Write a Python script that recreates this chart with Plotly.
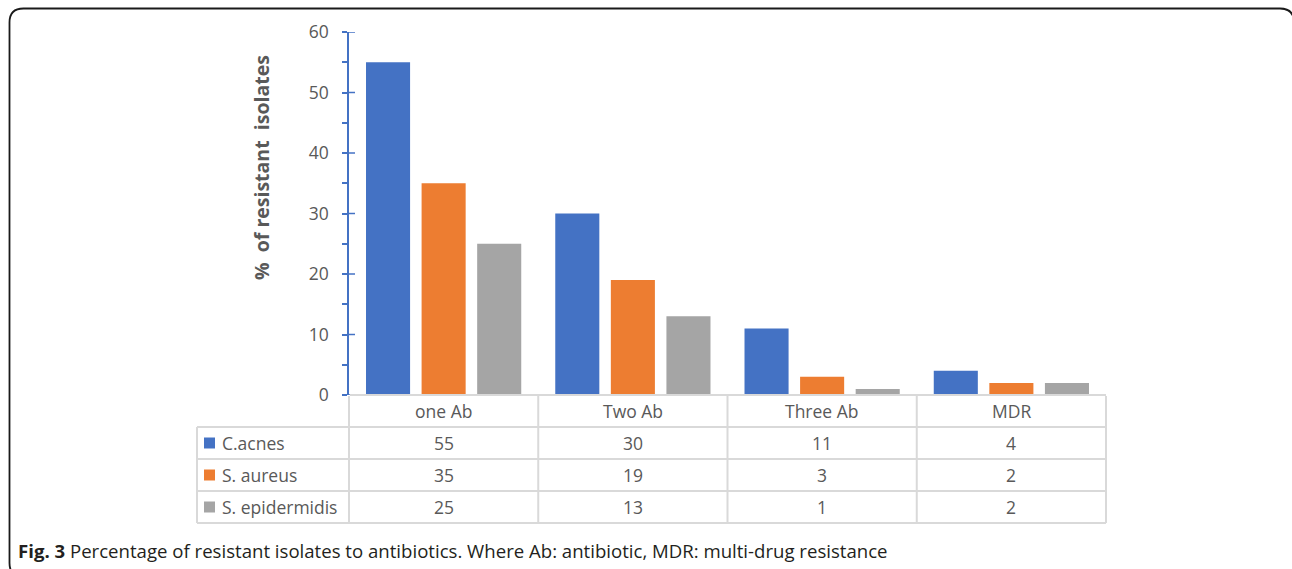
import plotly.graph_objects as go

# ---- data ----
categories = ["one Ab", "Two Ab", "Three Ab", "MDR"]
series_names = ["C.acnes", "S. aureus", "S. epidermidis"]
c_acnes = [55, 30, 11, 4]
s_aureus = [35, 19, 3, 2]
s_epidermidis = [25, 13, 1, 2]
series_values = [c_acnes, s_aureus, s_epidermidis]
series_colors = ["#4472C4", "#ED7D31", "#A5A5A5"]
y_ticks = [0, 10, 20, 30, 40, 50, 60]

W, H = 1292, 569
FONT = "Open Sans"
TXT = "#595959"
GRID = "#D9D9D9"
AXIS = "#4472C4"
CELL_SIZE = 17.5

# plot-area geometry (pixels)
PX0, PX1 = 349, 1106
PY_TOP, PY_BOT = 32, 395
ROW_H = 32
LEFT_COL = 197


def fx(px):
    return px / W


def fy(py):
    return 1 - py / H


fig = go.Figure()
for name, vals, col in zip(series_names, series_values, series_colors):
    fig.add_trace(go.Bar(x=categories, y=vals, name=name, marker_color=col,
                         marker_line_width=0, showlegend=False))

fig.update_layout(
    template="none",
    width=W, height=H,
    margin=dict(l=0, r=0, t=0, b=0, pad=0),
    paper_bgcolor="white", plot_bgcolor="white",
    barmode="group", bargap=0.119, bargroupgap=0.207,
    font=dict(family=FONT, color=TXT, size=16),
    xaxis=dict(domain=[fx(PX0), fx(PX1)], range=[-0.5, len(categories) - 0.5],
               showticklabels=False, showline=False, showgrid=False,
               zeroline=False, ticks="", automargin=False),
    yaxis=dict(domain=[fy(PY_BOT), fy(PY_TOP)], range=[0, 60], automargin=False,
               tickvals=y_ticks, ticks="outside", ticklen=5, tickwidth=1.5,
               tickcolor=AXIS, showline=True, linecolor=AXIS, linewidth=1.5,
               showgrid=False, zeroline=False, ticklabelstandoff=10,
               tickfont=dict(size=17.5, color=TXT),
               minor=dict(dtick=5, ticks="outside", ticklen=5, tickwidth=1.5,
                          tickcolor=AXIS, showgrid=False)),
)

shapes = []
# inner halves of major ticks
for v in y_ticks:
    shapes.append(dict(type="line", xref="paper", yref="y",
                       x0=fx(PX0), x1=fx(PX0 + 6), y0=v, y1=v,
                       line=dict(color=AXIS, width=1.5)))

# data table grid
ncol = len(categories)
col_w = (PX1 - PX0) / ncol
n_rows = len(series_names)
table_bot = PY_BOT + ROW_H * (n_rows + 1)
shapes.append(dict(type="line", xref="paper", yref="paper",
                   x0=fx(PX0 + 1), x1=fx(PX1), y0=fy(PY_BOT), y1=fy(PY_BOT),
                   line=dict(color=GRID, width=2)))
for r in range(1, n_rows + 2):
    yy = PY_BOT + ROW_H * r
    shapes.append(dict(type="line", xref="paper", yref="paper",
                       x0=fx(LEFT_COL), x1=fx(PX1), y0=fy(yy), y1=fy(yy),
                       line=dict(color=GRID, width=2)))
for c in range(ncol + 1):
    xx = PX0 + col_w * c
    shapes.append(dict(type="line", xref="paper", yref="paper",
                       x0=fx(xx), x1=fx(xx), y0=fy(PY_BOT + 1), y1=fy(table_bot),
                       line=dict(color=GRID, width=2)))
shapes.append(dict(type="line", xref="paper", yref="paper",
                   x0=fx(LEFT_COL), x1=fx(LEFT_COL),
                   y0=fy(PY_BOT + ROW_H), y1=fy(table_bot),
                   line=dict(color=GRID, width=2)))

annotations = []
# column headers
for c, cat in enumerate(categories):
    annotations.append(dict(text=cat, xref="paper", yref="paper",
                            x=fx(PX0 + col_w * (c + 0.5)), y=fy(PY_BOT + ROW_H / 2),
                            showarrow=False, xanchor="center", yanchor="middle",
                            font=dict(size=CELL_SIZE, color=TXT)))
# rows: legend key, name, values
for r, (name, vals, col) in enumerate(zip(series_names, series_values, series_colors)):
    yc = PY_BOT + ROW_H * (r + 1.5)
    shapes.append(dict(type="rect", xref="paper", yref="paper",
                       x0=fx(204), x1=fx(215), y0=fy(yc - 5.5), y1=fy(yc + 5.5),
                       fillcolor=col, line=dict(width=0)))
    annotations.append(dict(text=name, xref="paper", yref="paper",
                            x=fx(220), y=fy(yc), showarrow=False,
                            xanchor="left", yanchor="middle",
                            font=dict(size=CELL_SIZE, color=TXT)))
    for c, v in enumerate(vals):
        annotations.append(dict(text=str(v), xref="paper", yref="paper",
                                x=fx(PX0 + col_w * (c + 0.5)), y=fy(yc),
                                showarrow=False, xanchor="center", yanchor="middle",
                                font=dict(size=CELL_SIZE, color=TXT)))

# y-axis title
annotations.append(dict(text="<b>%  of resistant  isolates</b>", xref="paper", yref="paper",
                        x=fx(261), y=fy(168), showarrow=False, textangle=-90,
                        xanchor="center", yanchor="middle",
                        font=dict(size=19.5, color=TXT)))

# caption
annotations.append(dict(text="<b>Fig. 3</b> Percentage of resistant isolates to antibiotics. "
                             "Where Ab: antibiotic, MDR: multi-drug resistance",
                        xref="paper", yref="paper", x=fx(16), y=fy(550),
                        showarrow=False, xanchor="left", yanchor="middle",
                        font=dict(size=18.6, color="#231F20", family=FONT)))

# rounded frame around the figure
L, T, R, B, rad = 9.5, 8.5, 1294, 577, 14
path = (f"M {fx(L)},{fy(T + rad)} Q {fx(L)},{fy(T)} {fx(L + rad)},{fy(T)} "
        f"L {fx(R - rad)},{fy(T)} Q {fx(R)},{fy(T)} {fx(R)},{fy(T + rad)} "
        f"L {fx(R)},{fy(B - rad)} Q {fx(R)},{fy(B)} {fx(R - rad)},{fy(B)} "
        f"L {fx(L + rad)},{fy(B)} Q {fx(L)},{fy(B)} {fx(L)},{fy(B - rad)} Z")
shapes.append(dict(type="path", xref="paper", yref="paper", path=path,
                   line=dict(color="#1a1a1a", width=1.8)))

fig.update_layout(shapes=shapes, annotations=annotations)
fig.write_html("out.html")
